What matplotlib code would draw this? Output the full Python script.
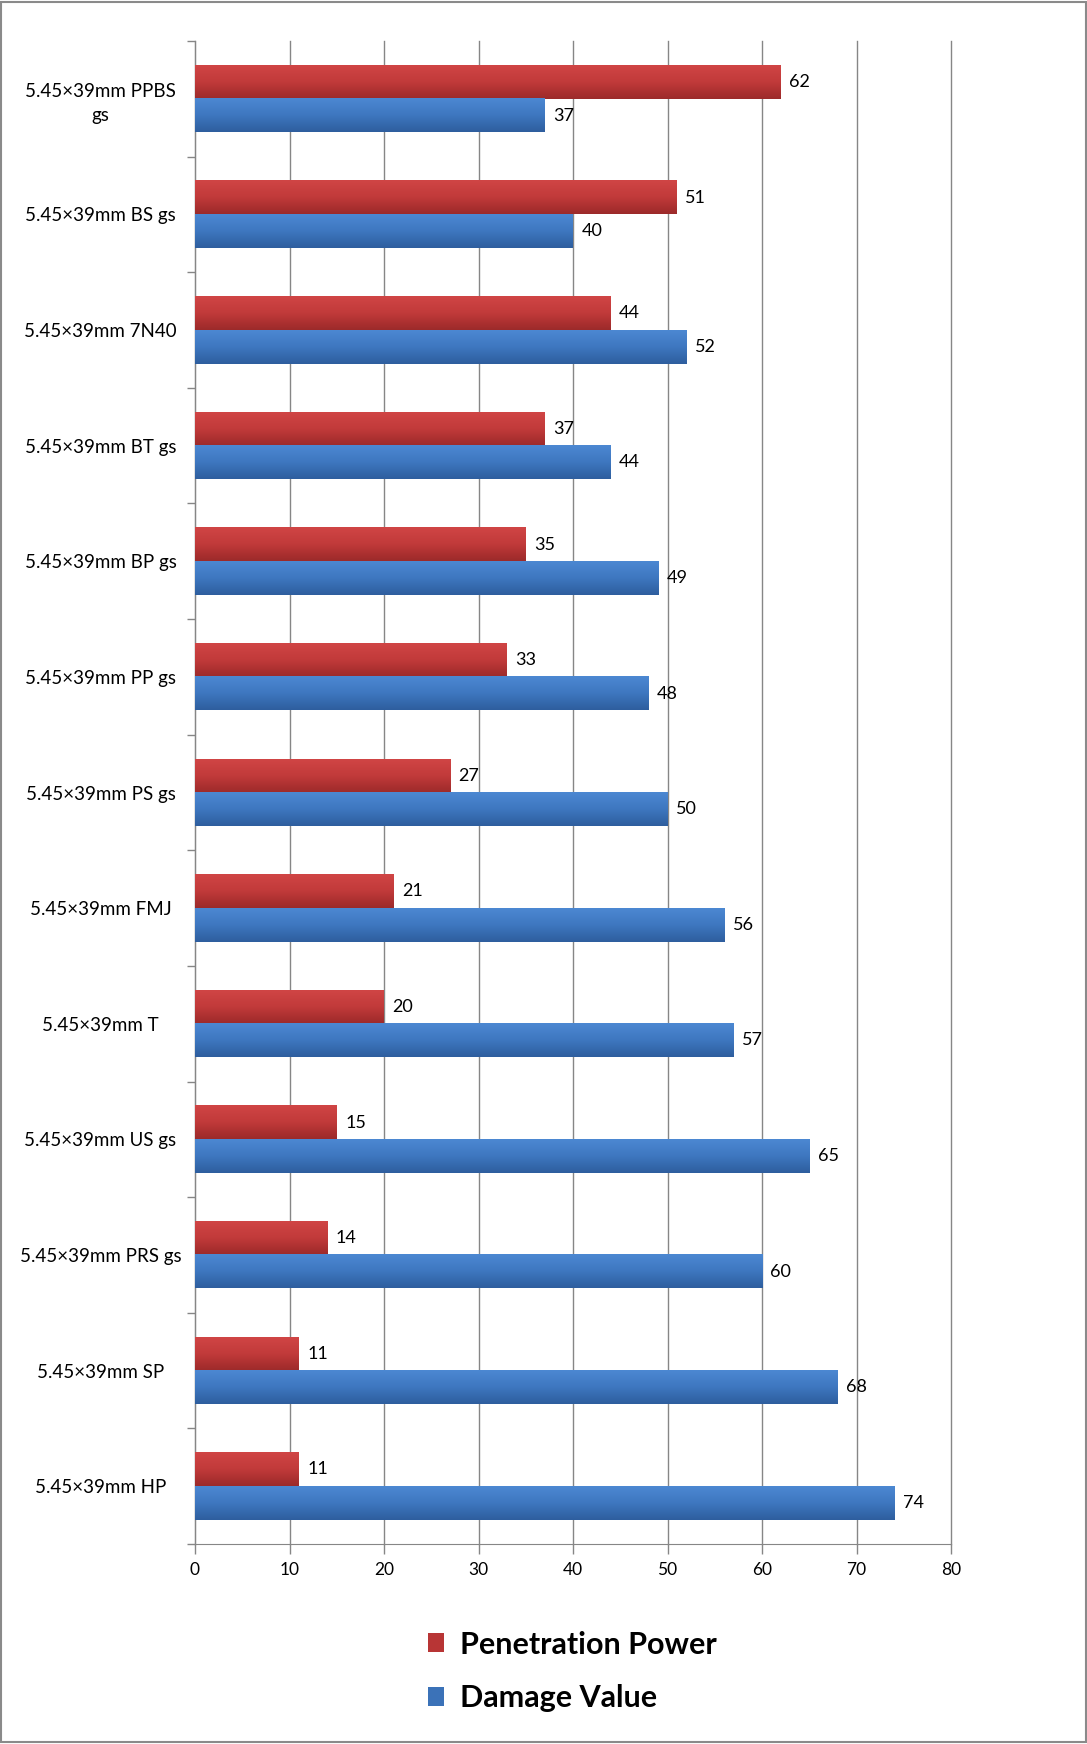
import numpy as np
import matplotlib
matplotlib.use("Agg")
import matplotlib.pyplot as plt
from matplotlib.colors import LinearSegmentedColormap
from matplotlib.patches import Patch, Rectangle

# Data (top to bottom as shown)
categories = ["5.45×39mm PPBS\ngs", "5.45×39mm BS gs", "5.45×39mm 7N40", "5.45×39mm BT gs",
              "5.45×39mm BP gs", "5.45×39mm PP gs", "5.45×39mm PS gs", "5.45×39mm FMJ",
              "5.45×39mm T", "5.45×39mm US gs", "5.45×39mm PRS gs", "5.45×39mm SP",
              "5.45×39mm HP"]
penetration = [62, 51, 44, 37, 35, 33, 27, 21, 20, 15, 14, 11, 11]
damage = [37, 40, 52, 44, 49, 48, 50, 56, 57, 65, 60, 68, 74]
x_ticks = [0, 10, 20, 30, 40, 50, 60, 70, 80]

plt.rcParams['font.family'] = ['Lato', 'DejaVu Sans']

fig = plt.figure(figsize=(10.87, 17.44), dpi=100)
ax = fig.add_axes([195/1087, 200/1744, 756/1087, 1503/1744])

red_cmap = LinearSegmentedColormap.from_list("r", ["#D04545", "#C13A3A", "#9C2A2A"])
blue_cmap = LinearSegmentedColormap.from_list("b", ["#4C88D2", "#3E77C0", "#2E5E9E"])

y = np.arange(len(categories))
h = 0.29
red_bars = ax.barh(y - h/2, penetration, height=h, color="#C0393A", zorder=2)
blue_bars = ax.barh(y + h/2, damage, height=h, color="#3B72B8", zorder=2)

# vertical gradient on each bar
grad = np.linspace(0, 1, 64).reshape(-1, 1)
for bars, cm in [(red_bars, red_cmap), (blue_bars, blue_cmap)]:
    for p in bars:
        x0, y0, w, hh = p.get_x(), p.get_y(), p.get_width(), p.get_height()
        ax.imshow(grad, cmap=cm, aspect='auto', origin='upper',
                  extent=(x0, x0 + w, y0 + hh, y0), zorder=3)

# value labels
for bars, vals in [(red_bars, penetration), (blue_bars, damage)]:
    for p, v in zip(bars, vals):
        ax.annotate(str(v), (p.get_width(), p.get_y() + p.get_height()/2),
                    xytext=(6, 0), textcoords='offset points', va='center', ha='left',
                    fontsize=13, color='black', zorder=4)

ax.set_xlim(0, 80)
ax.set_ylim(len(categories) - 0.5, -0.5)
ax.set_xticks(x_ticks)
ax.set_xticklabels([str(t) for t in x_ticks], fontsize=12.5)
ax.set_yticks(y)
ax.set_yticklabels(categories, fontsize=13.5, ha='center', multialignment='center',
                   linespacing=1.5)
ax.set_yticks(np.arange(len(categories) + 1) - 0.5, minor=True)
ax.tick_params(axis='y', which='major', length=0, pad=68)
ax.tick_params(axis='y', which='minor', length=6, color='#868686', width=1)
ax.tick_params(axis='x', length=7, color='#868686', width=1, pad=6)

ax.grid(axis='x', color='#868686', linewidth=1, zorder=0)
for gl in ax.get_xgridlines():
    gl.set_clip_on(False)
ax.set_axisbelow(True)
for s in ['top', 'right']:
    ax.spines[s].set_visible(False)
ax.spines['left'].set_color('#868686')
ax.spines['bottom'].set_color('#868686')

handles = [Patch(facecolor="#B83535"), Patch(facecolor="#3B72B8")]
fig.legend(handles, ["Penetration Power", "Damage Value"], loc='upper left',
           bbox_to_anchor=(400/1087, 1 - 1603/1744), frameon=False,
           prop={'weight': 'bold', 'size': 22}, handlelength=0.55, handleheight=0.55,
           handletextpad=0.5, labelspacing=0.85)

fig.patches.append(Rectangle((0.001, 0.001), 0.998, 0.998, transform=fig.transFigure,
                             fill=False, edgecolor='#8a8a8a', linewidth=1.5))

fig.savefig("out.png", dpi=100)
